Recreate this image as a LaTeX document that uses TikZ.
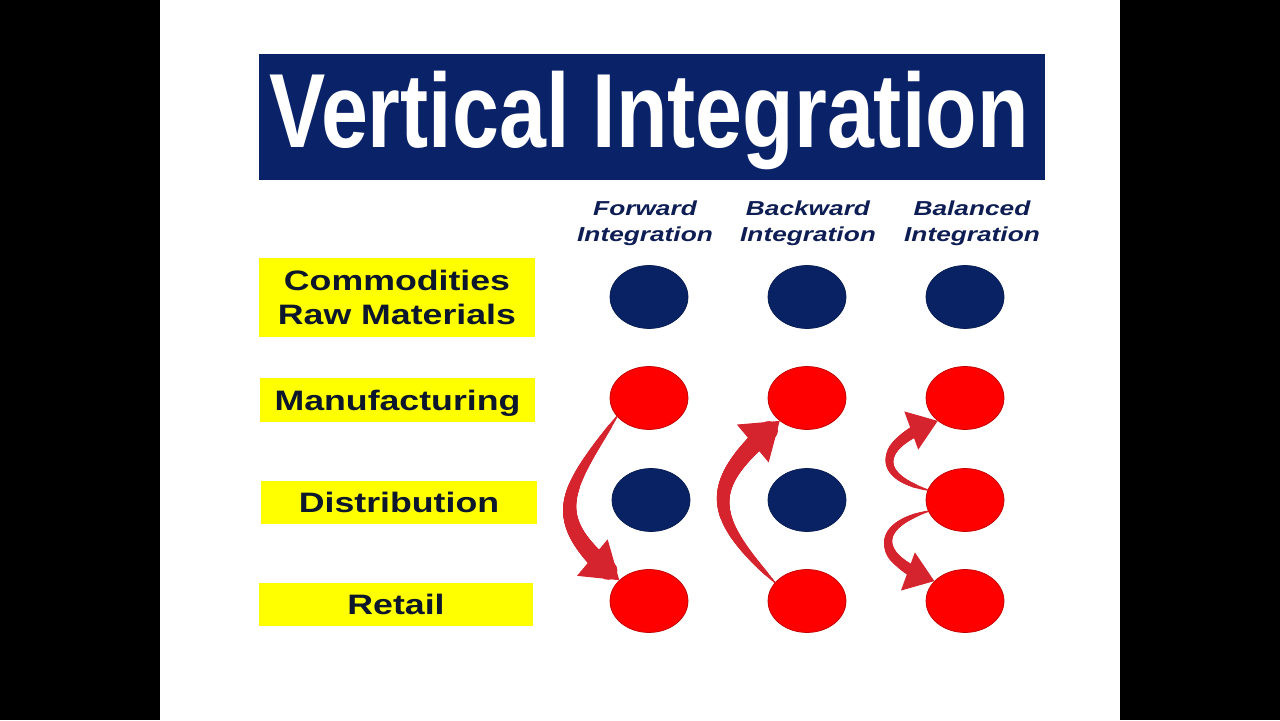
\documentclass[tikz,border=0pt]{standalone}
\usepackage{fontspec}
\setmainfont{Liberation Sans}
\newfontfamily\titlefont{Liberation Sans}[FakeStretch=0.8]
\newfontfamily\widefont{Liberation Sans}[FakeStretch=1.27]
\newfontfamily\headfont{Liberation Sans}[FakeStretch=1.3]
\usepackage{tikz}
\usetikzlibrary{shapes.geometric, arrows.meta, decorations.markings}
\definecolor{titleblue}{RGB}{10,34,104}
\definecolor{dotblue}{RGB}{8,34,100}
\definecolor{dotred}{RGB}{255,0,0}
\definecolor{arrowred}{RGB}{214,36,46}
\definecolor{stageyellow}{RGB}{255,255,0}
\definecolor{stageink}{RGB}{12,22,45}
\definecolor{headblue}{RGB}{14,30,84}
\tikzset{titlebar/.style = {fill=titleblue, minimum width=15.72cm, minimum height=2.52cm, inner sep=0pt}}
\tikzset{titletext/.style = {text=white, inner sep=0pt, font=\titlefont\bfseries\fontsize{60}{72}\selectfont}}
\tikzset{head/.style = {text=headblue, align=center, inner sep=0pt, font=\headfont\bfseries\itshape\fontsize{11.5}{14.7}\selectfont}}
\tikzset{stage/.style = {fill=stageyellow, text=stageink, align=center, text depth=0pt, minimum width=5.5cm, minimum height=0.87cm, inner sep=0pt, font=\widefont\bfseries\fontsize{16}{19.3}\selectfont}}
\tikzset{bluedot/.style = {ellipse, fill=dotblue, draw=dotblue!80!black, line width=0.4pt, minimum width=1.56cm, minimum height=1.26cm, inner sep=0pt}}
\tikzset{reddot/.style = {ellipse, fill=dotred, draw=dotred!75!black, line width=0.4pt, minimum width=1.56cm, minimum height=1.26cm, inner sep=0pt}}
% tapered arrow: #1 widest half width (pt), #2 head length, #3 head width
\tikzset{flow/.style n args = {3}{draw=arrowred, line width=0.6pt, -{Triangle[length=#2, width=#3]},
    postaction={decorate},
    decoration={markings, mark=between positions 0 and -8pt step 0.5pt with {
        \pgfmathsetmacro\rr{0.4+#1*pow(\pgfkeysvalueof{/pgf/decoration/mark info/distance from start}/\pgfdecoratedpathlength,0.7)}
        \fill[arrowred] (0,0) circle[radius=\rr pt];}}}}

\begin{document}
\begin{tikzpicture}[x=0.02cm, y=0.02cm]
    \fill[black] (0,0) rectangle (1280,720);
    \fill[white] (160,0) rectangle (1120,720);

    \node[titlebar] (bar) at (652,603) {};
    \node[titletext, anchor=base] (title) at (649,572) {Vertical Integration};

    \node[head] (fwd) at (645,497) {Forward\\Integration};
    \node[head] (bwd) at (808,497) {Backward\\Integration};
    \node[head] (bal) at (972,497) {Balanced\\Integration};

    \node[stage, minimum width=5.52cm, minimum height=1.58cm] (comm) at (397,422.5) {Commodities\\Raw Materials};
    \node[stage] (manu) at (397.5,320) {Manufacturing};
    \node[stage, minimum width=5.52cm] (dist) at (399,217.5) {Distribution};
    \node[stage, minimum width=5.48cm] (ret) at (396,115.5) {Retail};

    \node[bluedot] (c1) at (649,423) {};
    \node[bluedot] (c2) at (807,423) {};
    \node[bluedot] (c3) at (965,423) {};

    \node[reddot] (m1) at (649,322) {};
    \node[reddot] (m2) at (807,322) {};
    \node[reddot] (m3) at (965,322) {};

    \node[bluedot] (d1) at (651,220) {};
    \node[bluedot] (d2) at (807,220) {};
    \node[reddot] (d3) at (965,220) {};

    \node[reddot] (r1) at (649,119) {};
    \node[reddot] (r2) at (807,119) {};
    \node[reddot] (r3) at (965,119) {};

    % forward
    \draw[flow={5.2}{20pt}{27pt}] (m1.210) to[out=235, in=140, looseness=1.5] (r1.145);
    % backward
    \draw[flow={5.2}{20pt}{28pt}] (r2.150) to[out=135, in=220, looseness=1.55] (m2.220);
    % balanced
    \draw[flow={3.4}{16pt}{23pt}] (d3.165) to[out=165, in=200, looseness=2.2] (m3.220);
    \draw[flow={3.4}{16pt}{23pt}] (d3.197) to[out=195, in=160, looseness=2.2] (r3.147);
\end{tikzpicture}
\end{document}
